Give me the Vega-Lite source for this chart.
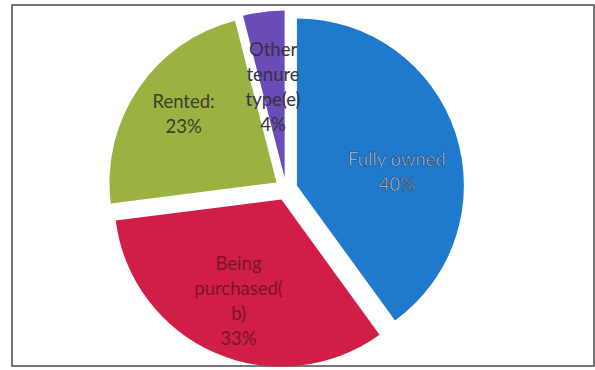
{
  "$schema": "https://vega.github.io/schema/vega-lite/v6.json",
  "width": 595,
  "height": 370,
  "autosize": {"type": "fit", "contains": "padding"},
  "padding": {"left": 11, "top": 4, "right": 0, "bottom": 3},
  "background": "white",
  "config": {"view": {"stroke": null}},
  "data": {
    "values": [
      {"category": "Fully owned", "value": 40, "label": "Fully owned\n40%"},
      {"category": "Being purchased(b)", "value": 33, "label": "Being\npurchased(\nb)\n33%"},
      {"category": "Rented", "value": 23, "label": "Rented:\n23%"},
      {"category": "Other tenure type(e)", "value": 4, "label": "Other\ntenure\ntype(e)\n4%"}
    ]
  },
  "layer": [
    {
      "data": {"values": [{"frame": "border"}]},
      "mark": {"type": "rect", "fill": null, "stroke": "#4a4a4a", "strokeWidth": 1.5},
      "encoding": {
        "x": {"value": 0},
        "x2": {"value": "width"},
        "y": {"value": 0},
        "y2": {"value": "height"}
      }
    },
    {
      "encoding": {
        "theta": {"field": "value", "type": "quantitative", "stack": true},
        "order": {"field": "value", "type": "quantitative", "sort": "descending"},
        "detail": {"field": "category", "type": "nominal"}
      },
      "layer": [
        {
          "mark": {"type": "arc", "radius": 167, "xOffset": -6.1, "yOffset": -0.1},
          "encoding": {"color": {"condition": {"test": "datum.category === 'Fully owned'", "value": "#1f79cc"}, "value": "transparent"}}
        },
        {
          "mark": {"type": "arc", "radius": 167, "xOffset": -21.6, "yOffset": 14.1},
          "encoding": {"color": {"condition": {"test": "datum.category === 'Being purchased(b)'", "value": "#d11e47"}, "value": "transparent"}}
        },
        {
          "mark": {"type": "arc", "radius": 167, "xOffset": -26.5, "yOffset": -3},
          "encoding": {"color": {"condition": {"test": "datum.category === 'Rented'", "value": "#9ab241"}, "value": "transparent"}}
        },
        {
          "mark": {"type": "arc", "radius": 167, "xOffset": -18.4, "yOffset": -7.9},
          "encoding": {"color": {"condition": {"test": "datum.category === 'Other tenure type(e)'", "value": "#6b4bb5"}, "value": "transparent"}}
        },
        {
          "mark": {"type": "text", "radius": 101, "xOffset": -6.1, "yOffset": -0.1, "dx": 4, "dy": 6, "font": "Lato", "fontSize": 18.5, "lineHeight": 25, "lineBreak": "\n", "fill": "#b5d3f3", "stroke": "#1b3a63", "strokeWidth": 0.6},
          "encoding": {"text": {"condition": {"test": "datum.category === 'Fully owned'", "field": "label", "type": "nominal"}, "value": ""}}
        },
        {
          "mark": {"type": "text", "radius": 108, "xOffset": -21.6, "yOffset": 14.1, "dy": -35, "font": "Lato", "fontSize": 18.5, "lineHeight": 25, "lineBreak": "\n", "fill": "#7a1528"},
          "encoding": {"text": {"condition": {"test": "datum.category === 'Being purchased(b)'", "field": "label", "type": "nominal"}, "value": ""}}
        },
        {
          "mark": {"type": "text", "radius": 116, "xOffset": -26.5, "yOffset": -3, "dx": 3, "dy": -15, "font": "Lato", "fontSize": 18.5, "lineHeight": 25, "lineBreak": "\n", "fill": "#3c3c30"},
          "encoding": {"text": {"condition": {"test": "datum.category === 'Rented'", "field": "label", "type": "nominal"}, "value": ""}}
        },
        {
          "mark": {"type": "text", "radius": 92, "xOffset": -18.4, "yOffset": -7.9, "dy": -36, "font": "Lato", "fontSize": 18.5, "lineHeight": 25, "lineBreak": "\n", "fill": "#333344"},
          "encoding": {"text": {"condition": {"test": "datum.category === 'Other tenure type(e)'", "field": "label", "type": "nominal"}, "value": ""}}
        }
      ]
    }
  ]
}
